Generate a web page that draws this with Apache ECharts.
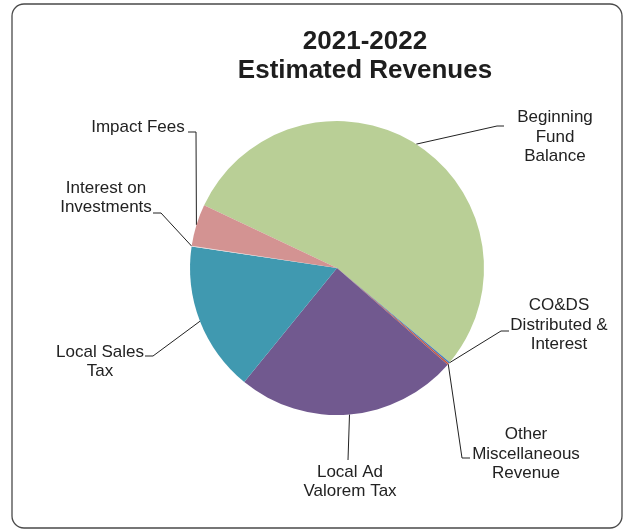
<!DOCTYPE html>
<html>
<head>
<meta charset="utf-8">
<script src="https://cdn.jsdelivr.net/npm/echarts@6/dist/echarts.min.js"></script>
<style>
  html, body { margin: 0; padding: 0; background: #fff; }
  #chart { width: 624px; height: 529px; }
</style>
</head>
<body>
<div id="chart"></div>
<script>
// Revenue sources, listed clockwise from the left edge of Beginning Fund Balance
const categories = [
  'Beginning Fund Balance',
  'CO&DS Distributed & Interest',
  'Other Miscellaneous Revenue',
  'Local Ad Valorem Tax',
  'Local Sales Tax',
  'Interest on Investments',
  'Impact Fees'
];
const labelTexts = [
  'Beginning\nFund\nBalance',
  'CO&DS\nDistributed &\nInterest',
  'Other\nMiscellaneous\nRevenue',
  'Local Ad\nValorem Tax',
  'Local Sales\nTax',
  'Interest on\nInvestments',
  'Impact Fees'
];
// Share of total estimated revenue, percent
const shares = [54.05, 0.17, 0.17, 24.44, 16.47, 0.08, 4.61];

const sliceColors = ['#B9CF96', '#4A7EBB', '#C8553D', '#71598F', '#4099B0', '#EADADA', '#D39392'];

// Where each label sits and how its leader line bends
const labelPlacement = [
  { x: 555, y: 137, elbow: [497, 126], end: [504, 126] },
  { x: 559, y: 325, elbow: [501, 331], end: [509, 331] },
  { x: 526, y: 454, elbow: [462, 458], end: [470, 458] },
  { x: 350, y: 482, elbow: [348, 460], end: [348, 460] },
  { x: 100, y: 362, elbow: [153, 356], end: [145, 356] },
  { x: 106, y: 198, elbow: [161, 213], end: [153, 213] },
  { x: 138, y: 127, elbow: [196, 132], end: [188, 132] }
];

const FONT = '"Liberation Sans", Arial, sans-serif';

const chart = echarts.init(document.getElementById('chart'), null, { renderer: 'canvas' });

chart.setOption({
  animation: false,
  backgroundColor: '#fff',
  title: {
    text: '2021-2022\nEstimated Revenues',
    left: 360,
    top: 22,
    textAlign: 'center',
    textStyle: {
      fontFamily: FONT,
      fontSize: 26,
      fontWeight: 'bold',
      color: '#1e1e1e',
      lineHeight: 29
    }
  },
  graphic: [{
    type: 'rect',
    shape: { x: 12, y: 4, width: 610, height: 524, r: 12 },
    style: { fill: 'none', stroke: '#4a4a4a', lineWidth: 1.3 },
    silent: true,
    z: 0
  }],
  series: [{
    type: 'pie',
    center: [337, 268],
    radius: 147,
    startAngle: 154.7,
    clockwise: true,
    avoidLabelOverlap: false,
    data: categories.map((name, i) => ({
      name,
      value: shares[i],
      itemStyle: { color: sliceColors[i] }
    })),
    itemStyle: { borderWidth: 0 },
    emphasis: { disabled: true },
    label: {
      show: true,
      position: 'outside',
      formatter: p => labelTexts[p.dataIndex],
      fontFamily: FONT,
      fontSize: 17,
      lineHeight: 19.5,
      color: '#222',
      align: 'center'
    },
    labelLine: {
      show: true,
      length: 10,
      length2: 10,
      smooth: false,
      lineStyle: { color: '#222', width: 1 }
    },
    labelLayout: function (params) {
      const spot = labelPlacement[params.dataIndex];
      const start = params.labelLinePoints ? params.labelLinePoints[0] : spot.elbow;
      return {
        x: spot.x,
        y: spot.y,
        align: 'center',
        verticalAlign: 'middle',
        labelLinePoints: [start, spot.elbow, spot.end]
      };
    }
  }]
});
</script>
</body>
</html>
